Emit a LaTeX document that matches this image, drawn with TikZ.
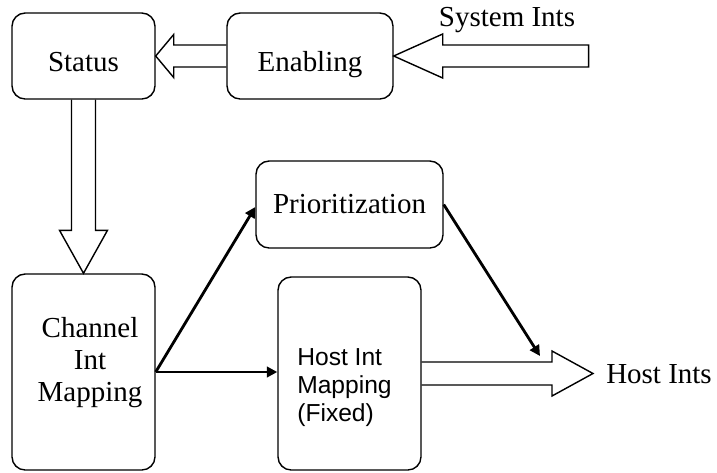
\documentclass[tikz,border=0pt]{standalone}
\usepackage{fontspec}
\setmainfont{Liberation Serif}
\newfontfamily\hostfont{Liberation Sans}
\usepackage{tikz}
\usetikzlibrary{calc,arrows.meta}
\tikzset{
  font={\fontsize{16.5pt}{18pt}\selectfont},
  box/.style={draw=black, line width=0.8pt, rounded corners=7.5pt},
  low/.style={text height=17.5pt, text depth=0pt},
  hollow/.style={draw=black, line width=0.8pt},
  wire/.style={line width=1.6pt, -{Triangle[length=6pt,width=6pt]}}}

\begin{document}
\begin{tikzpicture}[scale=0.2]
\tikzstyle{every node}+=[inner sep=0pt]
\useasboundingbox (0,0) rectangle (71.7,-47.2);
\node [box, low, minimum width=2.86cm, minimum height=1.72cm] (st) at (8.35,-5.6) {Status};
\node [box, low, minimum width=3.32cm, minimum height=1.72cm] (en) at (31.0,-5.6) {Enabling};
\node [box, minimum width=3.74cm, minimum height=1.74cm] (prio) at (34.95,-20.45) {Prioritization};
\node [box, minimum width=2.86cm, minimum height=3.92cm] (chan) at (8.35,-37.2) {};
\node [align=center, font={\fontsize{16.5pt}{18.2pt}\selectfont}] (chan-t) at (9.0,-36.25) {Channel\\Int\\Mapping};
\node [box, minimum width=2.86cm, minimum height=3.86cm] (hmap) at (34.95,-37.35) {};
\node [align=left, font={\hostfont\fontsize{14pt}{15.9pt}\selectfont}] (hmap-t) at (34.45,-38.8) {Host Int\\Mapping\\(Fixed)};
\node (sysints) at (50.7,-2.0) {System Ints};
\node (hostints) at (65.9,-37.4) {Host Ints};
\coordinate (sysin) at ($(en.east)+(19.5,0)$);
\coordinate (hout) at (59.3,-37.35);
\coordinate (hin) at (54.0,-35.6);
% hollow arrows
\draw [hollow] ($(sysin)+(0,1.1)$) -- ($(en.east)+(4.9,1.1)$) -- ++(0,1.1) -- (en.east)
  -- ++(4.9,-2.2) -- ++(0,1.1) -- ($(sysin)+(0,-1.1)$) -- cycle;
\draw [hollow] ($(en.west)+(0,1.1)$) -- ($(st.east)+(1.8,1.1)$) -- ++(0,1.05) -- (st.east)
  -- ++(1.8,-2.15) -- ++(0,1.05) -- ($(en.west)+(0,-1.1)$);
\draw [hollow] ($(st.south)+(-1.2,0)$) -- ($(chan.north)+(-1.2,4.3)$) -- ++(-1.2,0) -- (chan.north)
  -- ++(2.4,4.3) -- ++(-1.2,0) -- ($(st.south)+(1.2,0)$);
\draw [hollow] ($(hmap.east)+(0,1.15)$) -- ($(hout)+(-4.1,1.15)$) -- ++(0,1.1) -- (hout)
  -- ++(-4.1,-2.25) -- ++(0,1.1) -- ($(hmap.east)+(0,-1.15)$);
% thin arrows
\draw [wire] (chan.east) -- ([yshift=-7pt]prio.west);
\draw [wire] (chan.east) -- (chan.east -| hmap.west);
\draw [wire] (prio.east) -- (hin);
\end{tikzpicture}
\end{document}
